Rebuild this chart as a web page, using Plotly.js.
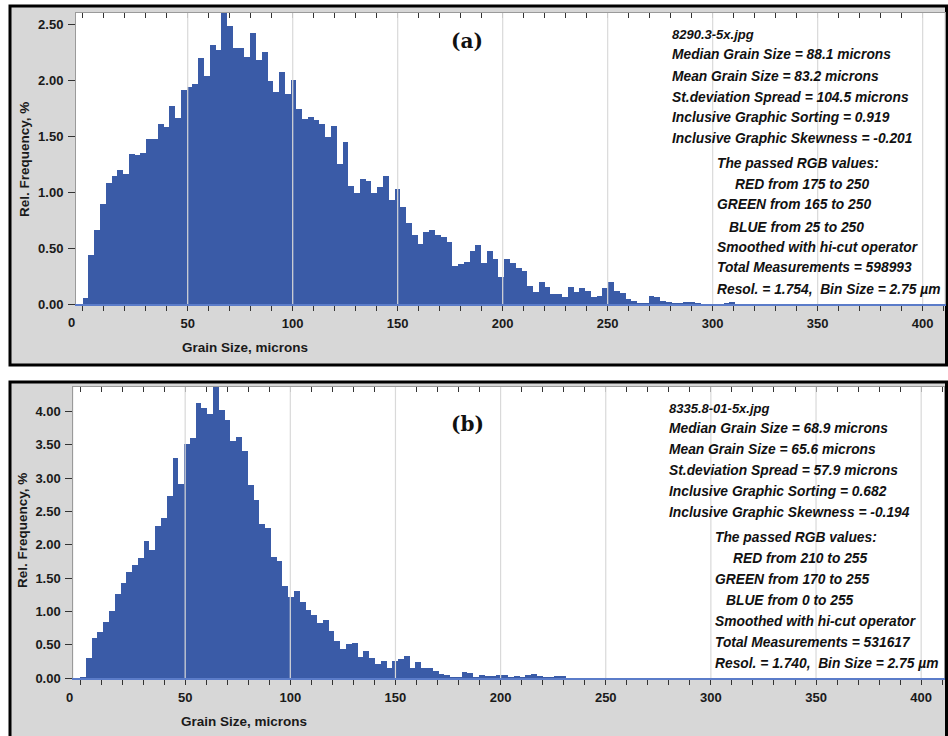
<!DOCTYPE html>
<html><head><meta charset="utf-8">
<script src="https://cdn.plot.ly/plotly-3.0.1.min.js"></script>
<style>html,body{margin:0;padding:0;background:#fff}#chart{width:948px;height:736px}</style>
</head><body><div id="chart"></div><script>
// ---------- data ----------
const binSize = 2.75; // µm
const freqA = [0.05,0.435,0.66,0.89,1.085,1.145,1.195,1.16,1.34,1.33,
1.345,1.47,1.47,1.61,1.58,1.77,1.665,1.91,1.94,1.97,
2.20,2.04,2.31,2.27,2.62,2.48,2.29,2.29,2.21,2.42,
2.18,2.25,1.99,1.89,2.07,1.875,2.005,1.74,1.65,1.67,
1.64,1.61,1.495,1.59,1.255,1.445,1.05,0.99,1.12,1.095,
0.99,1.045,1.14,0.93,1.03,0.87,0.72,0.615,0.54,0.645,
0.66,0.615,0.60,0.55,0.34,0.36,0.375,0.47,0.53,0.365,
0.47,0.405,0.245,0.405,0.365,0.325,0.295,0.157,0.103,0.195,
0.15,0.09,0.092,0.065,0.148,0.108,0.147,0.113,0.066,0.068,
0.14,0.20,0.12,0.095,0.045,0.03,0.006,0.01,0.075,0.065,
0.03,0.015,0.01,0.006,0.02,0.015,0.005,0.004,0.003,0.003,
0.004,0.01,0.015,0.004];
const freqB = [0.02,0.30,0.60,0.69,0.84,1.00,1.26,1.43,1.59,1.70,
1.80,2.055,1.925,2.28,2.40,2.73,3.31,2.92,3.515,3.61,
4.125,4.05,3.965,4.45,4.025,3.87,3.56,3.62,3.41,2.90,
2.67,2.31,2.25,1.81,1.76,1.385,1.21,1.31,1.14,1.015,
0.95,0.82,0.87,0.71,0.56,0.44,0.51,0.52,0.32,0.41,
0.30,0.21,0.25,0.155,0.26,0.28,0.33,0.145,0.24,0.145,
0.155,0.10,0.055,0.045,0.02,0.01,0.09,0.07,0.02,0.04,
0.025,0.03,0.04,0.04,0.015,0.03,0.01,0.045,0.06,0.03,
0.01,0.01,0.025,0.025,0.005,0.004,0.003,0.003,0.002];
const xTickVals = [0,50,100,150,200,250,300,350,400];
const xTickText = ['','50','100','150','200','250','300','350','400'];
const zeroLabel = '0';
const panelLabels = ['(a)','(b)'];
const xTitle = 'Grain Size, microns';
const yTitle = 'Rel. Frequency, %';
const statsA = ['8290.3-5x.jpg','Median Grain Size = 88.1 microns','Mean Grain Size = 83.2 microns',
 'St.deviation Spread = 104.5 microns','Inclusive Graphic Sorting = 0.919','Inclusive Graphic Skewness = -0.201',
 'The passed RGB values:','RED from 175 to 250','GREEN from 165 to 250','BLUE from 25 to 250',
 'Smoothed with hi-cut operator','Total Measurements = 598993','Resol. = 1.754,\u00a0 Bin Size = 2.75 µm'];
const statsB = ['8335.8-01-5x.jpg','Median Grain Size = 68.9 microns','Mean Grain Size = 65.6 microns',
 'St.deviation Spread = 57.9 microns','Inclusive Graphic Sorting = 0.682','Inclusive Graphic Skewness = -0.194',
 'The passed RGB values:','RED from 210 to 255','GREEN from 170 to 255','BLUE from 0 to 255',
 'Smoothed with hi-cut operator','Total Measurements = 531617','Resol. = 1.740,\u00a0 Bin Size = 2.75 µm'];

// ---------- layout helpers ----------
const W = 948, H = 736;
const px = v => v / W, py = v => 1 - v / H;
const barColor = '#3a5ba7';
const FAM = 'Liberation Sans, Arial, sans-serif';
const tickFont = {family:FAM, size:13, color:'#1a1a1a', weight:'bold'};
const titleFont = {family:FAM, size:13.5, color:'#1a1a1a', weight:'bold'};
const centers = arr => arr.map((_, i) => binSize * i + binSize / 2);

const P = [
  {plot:[76,13,944.5,304], frame:[10,6,946.5,365], xr:[-3.2,410.4], yr:[0,2.6], stats:statsA,
   statsX:[670,670,670,670,670,670,715,733,715,727,715,715,715],
   statsY:[34,55,76,97,117,138,163,184,205,227,247,268,289],
   label:[467,41], xt:[245,347], yt:[25,160], zero:[71,323]},
  {plot:[73.3,387,944.3,678], frame:[10,382,946.5,745], xr:[-3.2,411.0], yr:[0,4.37], stats:statsB,
   statsX:[667,667,667,667,667,667,713,731,713,724,713,713,713],
   statsY:[408,428,449,470,491,512,537,558,579,600,621,642,663],
   label:[467,424], xt:[244,721], yt:[22,531], zero:[69,697]}
];

const data = [
  {type:'bar', x:centers(freqA), y:freqA, width:binSize, xaxis:'x', yaxis:'y',
   marker:{color:barColor, line:{width:0}}, hoverinfo:'skip'},
  {type:'bar', x:centers(freqB), y:freqB, width:binSize, xaxis:'x2', yaxis:'y2',
   marker:{color:barColor, line:{width:0}}, hoverinfo:'skip'},
  // empty traces so the top tick axes are drawn
  {type:'scatter', mode:'markers', x:[], y:[], xaxis:'x3', yaxis:'y', hoverinfo:'skip'},
  {type:'scatter', mode:'markers', x:[], y:[], xaxis:'x4', yaxis:'y2', hoverinfo:'skip'}
];

const layout = {
  width:W, height:H, margin:{l:0,r:0,t:0,b:0}, paper_bgcolor:'#ffffff', plot_bgcolor:'rgba(0,0,0,0)',
  showlegend:false, bargap:0, shapes:[], annotations:[]
};

P.forEach((p, i) => {
  const n = i === 0 ? '' : '2';
  const nt = i === 0 ? '3' : '4';
  const xd = [px(p.plot[0]), px(p.plot[2])];
  const yd = [py(p.plot[3]), py(p.plot[1])];
  layout['xaxis' + n] = {
    domain:xd, range:p.xr, anchor:'y' + n, tickmode:'array', tickvals:xTickVals, ticktext:xTickText,
    ticks:'outside', ticklen:5, tickwidth:1, tickcolor:'#333', showgrid:false, zeroline:false,
    showline:true, linecolor:'#5b7cc9', linewidth:1.5, tickfont:tickFont, ticklabelstandoff:2,
    minor:{tick0:0, dtick:10, ticks:'outside', ticklen:5, tickwidth:1, tickcolor:'#333', showgrid:false},
    fixedrange:true
  };
  layout['xaxis' + nt] = {
    overlaying:'x' + n, anchor:'y' + n, side:'top', range:p.xr, tickmode:'array', tickvals:xTickVals,
    ticks:'inside', ticklen:5, tickwidth:1, tickcolor:'#333', showticklabels:false, showgrid:false,
    zeroline:false, showline:true, linecolor:'#9a9a9a', linewidth:1,
    minor:{tick0:0, dtick:10, ticks:'inside', ticklen:5, tickwidth:1, tickcolor:'#333', showgrid:false},
    fixedrange:true
  };
  layout['yaxis' + n] = {
    domain:yd, range:p.yr, anchor:'x' + n, tickmode:'linear', tick0:0, dtick:0.5, tickformat:'.2f',
    ticks:'outside', ticklen:7, tickwidth:1, tickcolor:'#333', showline:true, linecolor:'#9a9a9a',
    mirror:true, showgrid:false, zeroline:false, tickfont:tickFont, ticklabelstandoff:2, fixedrange:true
  };
  // frame and white plot area
  layout.shapes.push({type:'rect', xref:'paper', yref:'paper', layer:'below',
    x0:px(p.frame[0]), x1:px(p.frame[2]), y0:py(p.frame[3]), y1:py(p.frame[1]),
    fillcolor:'#d7d7d7', line:{color:'#000', width:3}});
  layout.shapes.push({type:'rect', xref:'paper', yref:'paper', layer:'below',
    x0:xd[0], x1:xd[1], y0:yd[0], y1:yd[1], fillcolor:'#ffffff', line:{width:0}});
  // gridlines drawn over the bars
  xTickVals.slice(1).forEach(v => layout.shapes.push({type:'line', xref:'x' + n, yref:'y' + n + ' domain',
    x0:v, x1:v, y0:0, y1:1, layer:'above', line:{color:'#d9d9d9', width:1.2}}));
  // texts
  const ann = layout.annotations;
  ann.push({xref:'paper', yref:'paper', x:px(p.label[0]), y:py(p.label[1]), text:panelLabels[i],
    showarrow:false, xanchor:'center', yanchor:'middle',
    font:{family:'DejaVu Serif, serif', size:20, color:'#111', weight:'bold'}});
  ann.push({xref:'paper', yref:'paper', x:px(p.xt[0]), y:py(p.xt[1]), text:xTitle, showarrow:false,
    xanchor:'center', yanchor:'middle', font:titleFont});
  ann.push({xref:'paper', yref:'paper', x:px(p.yt[0]), y:py(p.yt[1]), text:yTitle, showarrow:false,
    textangle:-90, xanchor:'center', yanchor:'middle', font:titleFont});
  ann.push({xref:'paper', yref:'paper', x:px(p.zero[0]), y:py(p.zero[1]), text:zeroLabel, showarrow:false,
    xanchor:'center', yanchor:'middle', font:tickFont});
  p.stats.forEach((t, j) => ann.push({xref:'paper', yref:'paper', x:px(p.statsX[j]), y:py(p.statsY[j]),
    text:t, showarrow:false, xanchor:'left', yanchor:'middle',
    font:{family:FAM, size:j === 0 ? 13 : 13.8, color:'#111', weight:'bold', style:'italic'}}));
});

Plotly.newPlot('chart', data, layout, {staticPlot:true, displayModeBar:false});
</script></body></html>
